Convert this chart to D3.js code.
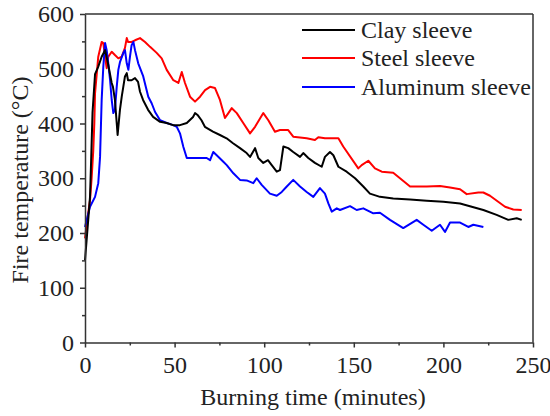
<!DOCTYPE html>
<html>
<head>
<meta charset="utf-8">
<script src="https://cdn.jsdelivr.net/npm/d3@7"></script>
<style>
  body { margin: 0; background: #fff; }
  svg { display: block; }
  text { font-family: "Liberation Serif", "Times New Roman", serif; fill: #222; }
</style>
</head>
<body>
<svg id="chart" width="550" height="416"></svg>
<script>
// ---- data (time in minutes, temperature in °C) ----
const seriesNames = ["Clay sleeve", "Steel sleeve", "Aluminum sleeve"];
const seriesColors = ["#000000", "#ff0000", "#0000ff"];

const clayT = [0, 0.9, 1.8, 2.8, 3.4, 4.2, 5.6, 7.3, 9.3, 11.2, 12.8, 14.9, 15.6, 16.7, 17.7, 18.2, 19.5, 20.5, 22.3, 23.3, 24, 26, 27.9, 29.6, 30.7, 32.4, 35.2, 38, 41.9, 45.6, 49.1, 53, 56.8, 60.3, 61.4, 63, 65, 66.9, 71.4, 75.3, 79, 82.6, 86.5, 90.2, 92.1, 94.9, 96.7, 99.5, 102.1, 104.2, 107, 108.8, 110.7, 113.4, 116.2, 120, 121.8, 124.6, 128.3, 132.1, 133.9, 136.7, 138.6, 141.4, 146, 150.7, 155.3, 159, 164.6, 172, 181.4, 190.7, 200, 209.3, 214.8, 222.3, 229.7, 236.2, 240.9, 243.7];
const clayV = [150, 187, 224, 266, 330, 420, 490, 503, 522, 534, 510, 474, 467, 443, 401, 379, 425, 449, 486, 492, 479, 479, 483, 476, 458, 443, 425, 412, 403, 401, 397, 397, 401, 412, 419, 415, 406, 394, 385, 379, 373, 364, 355, 346, 339, 355, 337, 328, 333, 324, 312, 315, 358, 355, 348, 339, 346, 337, 328, 321, 339, 348, 342, 321, 312, 300, 285, 272, 266, 263, 261, 259, 257, 254, 249, 242, 233, 224, 227, 224];

const steelT = [0, 1.3, 2.8, 3.7, 4.6, 5.2, 5.6, 7.4, 9.3, 10.2, 11.2, 12.1, 13, 14.9, 16.7, 18.6, 20.5, 22.3, 23.3, 24, 26, 27.9, 30.7, 33.5, 36.3, 40, 42.8, 45.6, 49.3, 52.1, 54, 55.8, 58.6, 61.4, 64.2, 67, 69.8, 72.5, 75.3, 78.1, 80, 81.9, 84.7, 88.3, 92.1, 94.9, 99.5, 102.3, 106, 108.8, 113.4, 116.2, 123.7, 128.3, 130.2, 133.9, 141.4, 144.1, 152.5, 154.4, 158.1, 161.8, 165.6, 172, 181.4, 190.7, 198.1, 203.7, 209.3, 213, 219.5, 222.3, 226, 234.4, 239, 243.7];
const steelV = [190, 225, 260, 300, 350, 400, 455, 522, 549, 547, 522, 501, 522, 531, 525, 519, 522, 538, 556, 549, 549, 552, 556, 549, 540, 529, 519, 498, 479, 474, 494, 474, 449, 440, 449, 461, 467, 465, 443, 410, 419, 428, 419, 401, 382, 394, 419, 406, 385, 388, 388, 376, 373, 370, 375, 373, 373, 358, 318, 324, 332, 318, 312, 310, 285, 285, 286, 283, 280, 271, 274, 274, 268, 248, 243, 242];

const aluT = [0, 2.8, 5.6, 7.4, 8.4, 9.3, 10.2, 11.2, 12.1, 13, 14, 14.9, 15.8, 16.7, 17.7, 18.6, 19.5, 21.4, 22.3, 23.3, 24.2, 25.1, 26, 27, 27.9, 29.7, 32.5, 35.3, 37.2, 39.1, 41.9, 45.6, 49.3, 51.2, 53, 54.9, 56.8, 67.9, 69.8, 71.6, 73.5, 77.2, 79.1, 82.8, 86.5, 90.2, 93.9, 95.8, 98.6, 103.2, 107, 109.8, 112.6, 116.2, 120, 123.7, 127.4, 131.1, 133.9, 135.8, 137.7, 140.5, 142.3, 147.9, 151.6, 155.3, 160.9, 164.6, 170.2, 177.6, 185.1, 188.8, 193.5, 198.1, 200.9, 203.7, 209.3, 213.9, 216.7, 222.3];
const aluV = [211, 248, 266, 291, 339, 443, 503, 547, 534, 510, 479, 443, 419, 425, 467, 498, 512, 529, 534, 510, 498, 522, 543, 549, 534, 510, 486, 449, 437, 421, 406, 401, 397, 394, 382, 357, 337, 337, 333, 348, 342, 330, 324, 309, 297, 296, 291, 300, 288, 272, 268, 275, 285, 297, 285, 275, 266, 282, 272, 254, 239, 245, 242, 249, 242, 245, 236, 237, 224, 209, 224, 215, 204, 215, 202, 219, 219, 211, 215, 211];

const xTicks = [0, 50, 100, 150, 200, 250];
const yTicks = [0, 100, 200, 300, 400, 500, 600];

// ---- layout ----
const svg = d3.select("#chart");
const L = 85, R = 533, T = 14, B = 342.5;
const x = d3.scaleLinear().domain([0, 250]).range([L, R]);
const y = d3.scaleLinear().domain([0, 600]).range([B, T]);
const axisColor = "#333";

const series = [
  { name: seriesNames[0], color: seriesColors[0], t: clayT, v: clayV },
  { name: seriesNames[1], color: seriesColors[1], t: steelT, v: steelV },
  { name: seriesNames[2], color: seriesColors[2], t: aluT, v: aluV }
];

const line = d3.line().x(d => x(d[0])).y(d => y(d[1]));

[series[1], series[2], series[0]].forEach(s => {
  svg.append("path")
    .datum(s.t.map((t, i) => [t, s.v[i]]))
    .attr("fill", "none")
    .attr("stroke", s.color)
    .attr("stroke-width", 2)
    .attr("stroke-linejoin", "round")
    .attr("d", line);
});

// frame top & right
svg.append("line").attr("x1", L).attr("x2", R).attr("y1", T).attr("y2", T)
  .attr("stroke", axisColor).attr("stroke-width", 1.5);
svg.append("line").attr("x1", R).attr("x2", R).attr("y1", T).attr("y2", B)
  .attr("stroke", axisColor).attr("stroke-width", 1.5);

// minor ticks
const gx = svg.append("g").attr("transform", `translate(0,${B})`)
  .call(d3.axisBottom(x).tickValues(d3.range(25, 250, 50)).tickSize(3).tickFormat(""));
const gy = svg.append("g").attr("transform", `translate(${L},0)`)
  .call(d3.axisLeft(y).tickValues(d3.range(50, 600, 100)).tickSize(3).tickFormat(""));
[gx, gy].forEach(g => { g.select(".domain").remove(); g.selectAll("line").attr("stroke", axisColor).attr("stroke-width", 1.5); });

// major axes
const xAxis = svg.append("g").attr("transform", `translate(0,${B})`)
  .call(d3.axisBottom(x).tickValues(xTicks).tickSize(5).tickPadding(8).tickSizeOuter(0));
const yAxis = svg.append("g").attr("transform", `translate(${L},0)`)
  .call(d3.axisLeft(y).tickValues(yTicks).tickSize(5).tickPadding(6).tickSizeOuter(0));
[xAxis, yAxis].forEach(g => {
  g.select(".domain").attr("stroke", axisColor).attr("stroke-width", 1.5);
  g.selectAll(".tick line").attr("stroke", axisColor).attr("stroke-width", 1.5);
  g.selectAll("text").attr("font-family", '"Liberation Serif", serif').attr("font-size", 24).attr("fill", "#222");
});

// axis titles
svg.append("text").attr("x", 313).attr("y", 405).attr("text-anchor", "middle")
  .attr("font-size", 24).text("Burning time (minutes)");
svg.append("text").attr("transform", "translate(28,180) rotate(-90)").attr("text-anchor", "middle")
  .attr("font-size", 24).text("Fire temperature (°C)");

// legend
const legY = [30, 58, 87];
series.forEach((s, i) => {
  svg.append("line").attr("x1", 302).attr("x2", 355).attr("y1", legY[i]).attr("y2", legY[i])
    .attr("stroke", s.color).attr("stroke-width", 2);
  svg.append("text").attr("x", 361).attr("y", legY[i] + 8).attr("font-size", 24).text(s.name);
});
</script>
</body>
</html>
